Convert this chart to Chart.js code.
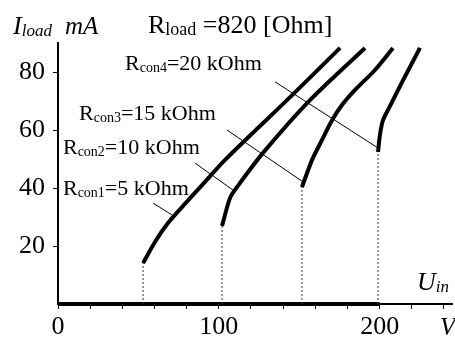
<!DOCTYPE html>
<html lang="en">
<head>
<meta charset="UTF-8">
<title>Load current vs input voltage</title>
<script src="https://cdn.jsdelivr.net/npm/chart.js"></script>
<style>
  html, body { margin: 0; padding: 0; background: #fff; }
</style>
</head>
<body>
<canvas id="chart" width="455" height="340"></canvas>
<script>
// U_in (V) / I_load (mA)
const uCon1 = [52.9, 60.3, 68.4, 77.1, 89.6, 103.9, 142.4, 175.4];
const iCon1 = [14.1, 21.4, 27.9, 33.4, 41.0, 49.7, 70.3, 88.3];
const uCon2 = [102.0, 107.0, 111.3, 127.5, 156.7, 190.9];
const iCon2 = [26.9, 36.6, 40.3, 52.1, 70.3, 88.3];
const uCon3 = [151.7, 158.0, 164.2, 170.4, 176.6, 184.7, 197.1, 208.3];
const iCon3 = [40.3, 49.7, 56.6, 63.4, 68.6, 73.8, 80.7, 88.3];
const uCon4 = [199.0, 200.2, 202.1, 206.5, 214.6, 225.1];
const iCon4 = [52.4, 58.3, 63.4, 68.3, 77.2, 88.3];

// zero current below the start voltage
const uZero = [0, 200];
const iZero = [0, 0];

// leader lines from labels to curves
const leaderU = [[59.1, 70.9], [85.2, 108.8], [105.1, 152.4], [135.0, 199.0]];
const leaderI = [[34.8, 30.7], [48.6, 39.3], [60.0, 42.1], [76.6, 53.8]];

const labelSub = ['con1', 'con2', 'con3', 'con4'];
const labelRest = ['=5 kOhm', '=10 kOhm', '=15 kOhm', '=20 kOhm'];
// where each label starts (U, I)
const labelU = [3.1, 3.1, 13.1, 41.7];
const labelI = [37.6, 51.7, 63.4, 80.7];

const xTicks = [0, 100, 200];
const xMinor = [0, 20, 40, 60, 80, 100, 120, 140, 160, 180, 200, 220, 240];
const yTicks = [20, 40, 60, 80];

const pts = (us, is) => us.map((u, k) => ({ x: u, y: is[k] }));

const curves = [[uCon1, iCon1], [uCon2, iCon2], [uCon3, iCon3], [uCon4, iCon4]];

const datasets = [];
curves.forEach(([u, i]) => {
    datasets.push({
        data: pts(u, i),
        borderColor: '#000', borderWidth: 4, pointRadius: 0,
        tension: 0.3, clip: false
    });
    // dotted drop line from curve start to the axis
    datasets.push({
        data: [{ x: u[0], y: 0 }, { x: u[0], y: i[0] }],
        borderColor: '#333', borderWidth: 1, borderDash: [2, 2], pointRadius: 0, clip: false
    });
});
leaderU.forEach((u, k) => {
    datasets.push({
        data: pts(u, leaderI[k]),
        borderColor: '#000', borderWidth: 1, pointRadius: 0, clip: false
    });
});
datasets.push({
    data: pts(uZero, iZero),
    borderColor: '#000', borderWidth: 4, pointRadius: 0, clip: false
});

const SERIF = '"Liberation Serif", "Times New Roman", serif';

// text with a subscript: main, sub, rest
function subText(ctx, x, y, main, sub, rest, size, subSize, style) {
    const st = style ? style + ' ' : '';
    ctx.font = st + size + 'px ' + SERIF;
    ctx.fillText(main, x, y);
    x += ctx.measureText(main).width;
    ctx.font = st + subSize + 'px ' + SERIF;
    ctx.fillText(sub, x, y + 2);
    x += ctx.measureText(sub).width;
    if (rest) {
        ctx.font = st + size + 'px ' + SERIF;
        ctx.fillText(rest, x, y);
    }
}

const textPlugin = {
    id: 'texts',
    afterDraw(chart) {
        const ctx = chart.ctx;
        const xs = chart.scales.x, ys = chart.scales.y;
        const area = chart.chartArea;
        ctx.save();
        ctx.fillStyle = '#000';
        ctx.textBaseline = 'alphabetic';
        ctx.textAlign = 'left';

        // axis titles
        subText(ctx, area.left - 45, area.top - 9, 'I', 'load', '', 26, 17, 'italic');
        ctx.font = 'italic 25px ' + SERIF;
        ctx.fillText('mA', area.left + 7, area.top - 9);
        subText(ctx, area.right - 35, area.bottom - 14, 'U', 'in', '', 26, 17, 'italic');
        ctx.font = 'italic 25px ' + SERIF;
        ctx.fillText('V', area.right - 12, area.bottom + 31);

        // header
        subText(ctx, area.left + 90, area.top - 10, 'R', 'load', ' =820 [Ohm]', 26, 18, '');

        // curve labels
        labelSub.forEach((s, k) => {
            subText(ctx, xs.getPixelForValue(labelU[k]), ys.getPixelForValue(labelI[k]),
                'R', s, labelRest[k], 22, 14, '');
        });
        ctx.restore();
    }
};

new Chart(document.getElementById('chart'), {
    type: 'line',
    data: { datasets },
    plugins: [textPlugin],
    options: {
        responsive: false,
        animation: false,
        devicePixelRatio: 1,
        layout: { padding: { top: 43, right: 3, left: 0, bottom: 0 } },
        plugins: { legend: { display: false }, tooltip: { enabled: false } },
        scales: {
            x: {
                type: 'linear', min: 0, max: 245,
                afterFit: s => { s.height = 36; },
                border: { color: '#000', width: 2 },
                grid: { drawOnChartArea: false, color: '#000', tickLength: 5, tickWidth: 1 },
                afterBuildTicks: s => { s.ticks = xMinor.map(v => ({ value: v })); },
                ticks: {
                    autoSkip: false, maxRotation: 0, padding: 3, color: '#000',
                    font: { family: SERIF, size: 26 },
                    callback: v => xTicks.includes(v) ? String(v) : ''
                }
            },
            y: {
                type: 'linear', min: 0, max: 90,
                afterFit: s => { s.width = 58; },
                border: { color: '#000', width: 2 },
                grid: { drawOnChartArea: false, color: '#000', tickLength: 5, tickWidth: 1 },
                afterBuildTicks: s => { s.ticks = yTicks.map(v => ({ value: v })); },
                ticks: {
                    autoSkip: false, padding: 8, color: '#000',
                    font: { family: SERIF, size: 26 }
                }
            }
        }
    }
});
</script>
</body>
</html>
